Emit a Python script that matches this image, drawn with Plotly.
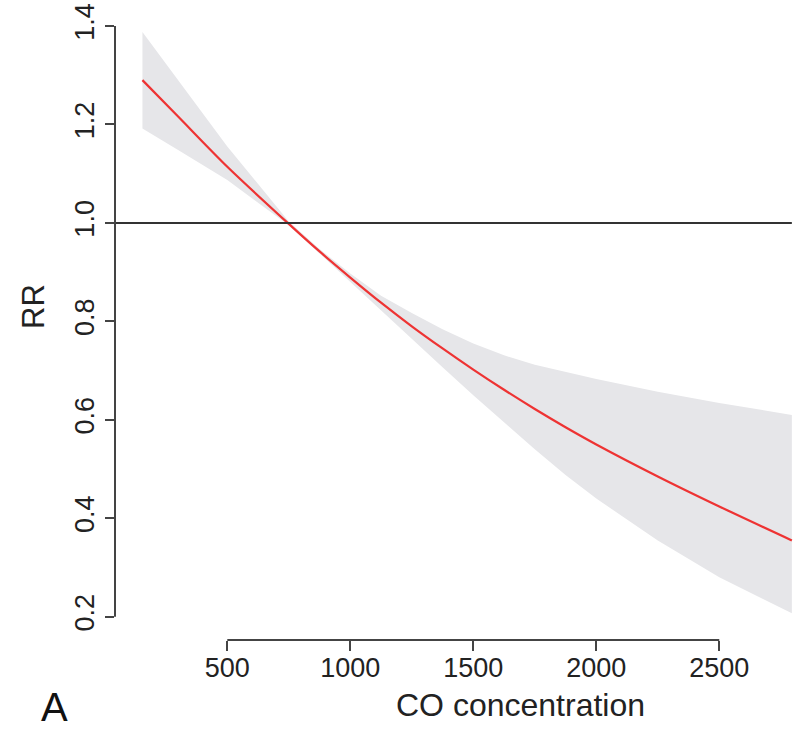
import plotly.graph_objects as go

# CO concentration grid and fitted relative risk with confidence band
co = [155, 300, 500, 750, 875, 1000, 1125, 1250, 1375, 1500, 1625, 1750,
      1875, 2000, 2250, 2500, 2795]
rr = [1.290, 1.216, 1.114, 0.998, 0.942, 0.889, 0.838, 0.790, 0.745, 0.702,
      0.661, 0.622, 0.585, 0.550, 0.485, 0.424, 0.355]
rr_upper = [1.388, 1.290, 1.155, 1.003, 0.947, 0.897, 0.852, 0.817, 0.784,
            0.755, 0.731, 0.712, 0.697, 0.683, 0.657, 0.634, 0.610]
rr_lower = [1.192, 1.148, 1.087, 0.995, 0.938, 0.882, 0.824, 0.765, 0.707,
            0.650, 0.594, 0.540, 0.488, 0.440, 0.355, 0.280, 0.207]

x_ticks = [500, 1000, 1500, 2000, 2500]
y_ticks = [0.2, 0.4, 0.6, 0.8, 1.0, 1.2, 1.4]
y_ticktext = ["0.2", "0.4", "0.6", "0.8", "1.0", "1.2", "1.4"]

x_range = [43.5, 2820]
y_range = [0.1527, 1.4528]

FONT = "Liberation Sans, Arial, Helvetica, sans-serif"
AXIS_COLOR = "#444444"
TEXT_COLOR = "#222222"

fig = go.Figure()

# confidence band
fig.add_trace(go.Scatter(
    x=co + co[::-1],
    y=rr_upper + rr_lower[::-1],
    fill="toself",
    fillcolor="#e6e6e9",
    line=dict(width=0),
    mode="lines",
    hoverinfo="skip",
    showlegend=False,
))

# fitted curve
fig.add_trace(go.Scatter(
    x=co, y=rr,
    mode="lines",
    line=dict(color="#ee3333", width=2.2, shape="spline", smoothing=0.8),
    showlegend=False,
))

# reference line at RR = 1
fig.add_shape(type="line", xref="x", yref="y",
              x0=x_range[0], x1=co[-1], y0=1.0, y1=1.0,
              line=dict(color="#333333", width=2), layer="above")

# R-style axis lines that only span the tick range
fig.add_shape(type="line", xref="paper", yref="y",
              x0=0, x1=0, y0=y_ticks[0], y1=y_ticks[-1],
              line=dict(color=AXIS_COLOR, width=2))
fig.add_shape(type="line", xref="x", yref="paper",
              x0=x_ticks[0], x1=x_ticks[-1], y0=0, y1=0,
              line=dict(color=AXIS_COLOR, width=2))

fig.update_xaxes(
    range=x_range, showline=False, showgrid=False, zeroline=False,
    tickmode="array", tickvals=x_ticks,
    ticks="outside", ticklen=10, tickwidth=2, tickcolor=AXIS_COLOR,
    ticklabelstandoff=-6,
    tickfont=dict(family=FONT, size=27, color=TEXT_COLOR),
)
fig.update_yaxes(
    range=y_range, showline=False, showgrid=False, zeroline=False,
    tickmode="array", tickvals=y_ticks, ticktext=y_ticktext, tickangle=-90,
    ticks="outside", ticklen=9, tickwidth=2, tickcolor=AXIS_COLOR,
    tickfont=dict(family=FONT, size=27, color=TEXT_COLOR),
)

fig.add_annotation(text="RR", xref="paper", yref="paper", x=-0.1186, y=0.522,
                   xanchor="center", yanchor="middle",
                   textangle=-90, showarrow=False,
                   font=dict(family=FONT, size=31, color=TEXT_COLOR))
fig.add_annotation(text="CO concentration", xref="paper", yref="paper",
                   x=0.593, y=-0.1016, xanchor="center", yanchor="middle",
                   showarrow=False,
                   font=dict(family=FONT, size=32, color=TEXT_COLOR))
fig.add_annotation(text="A", xref="paper", yref="paper",
                   x=-0.0893, y=-0.1047, xanchor="center", yanchor="middle",
                   showarrow=False,
                   font=dict(family=FONT, size=40, color="#111111"))

fig.update_layout(
    width=798, height=731,
    margin=dict(l=115, r=0, t=0, b=91),
    paper_bgcolor="white", plot_bgcolor="white",
)

fig.write_html("out.html")
